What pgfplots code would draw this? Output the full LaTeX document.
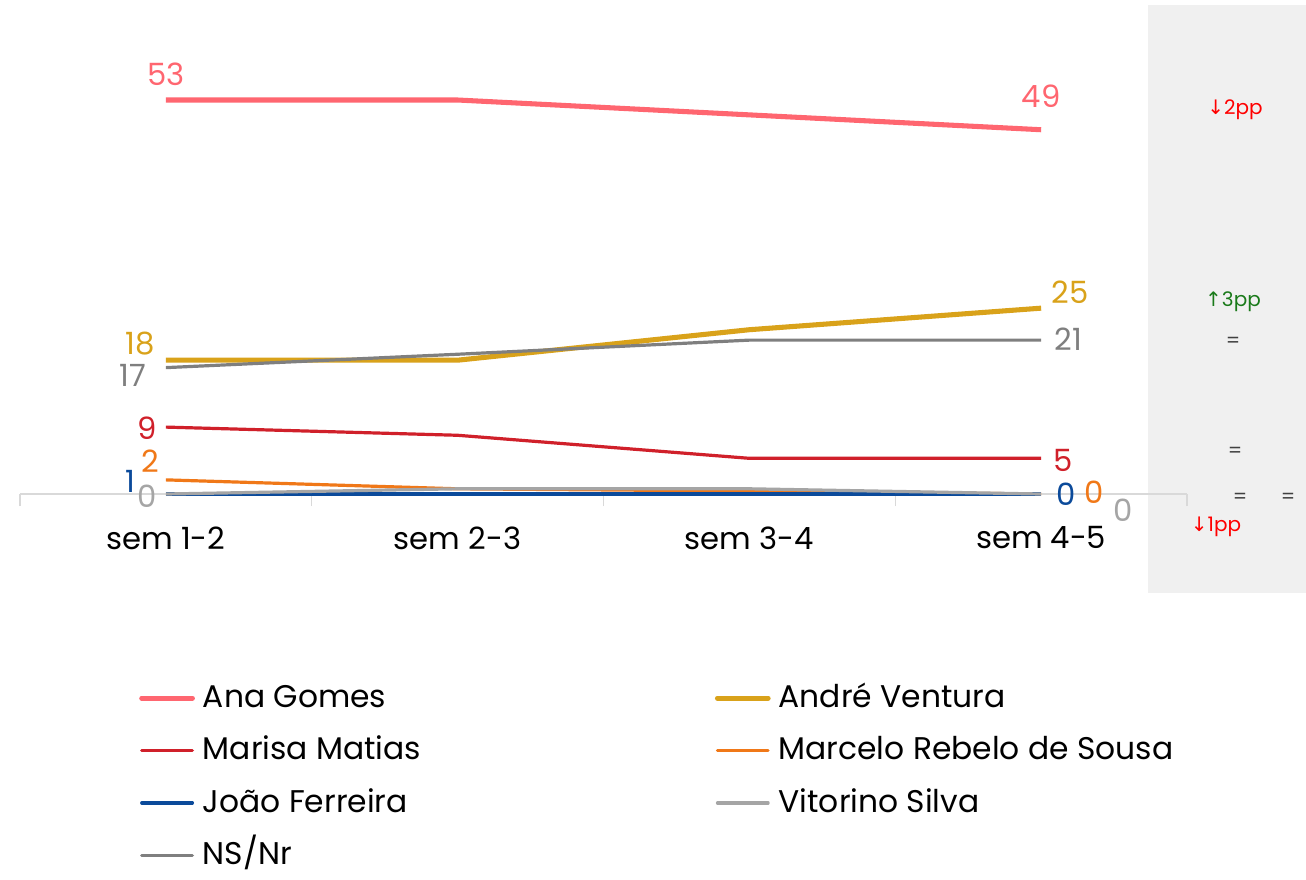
\documentclass[border=0pt]{standalone}
\usepackage{fontspec}
\setmainfont{Poppins}
\newfontfamily\symfont{DejaVu Sans}
\usepackage{pgfplots}
\pgfplotsset{compat=1.18}
\definecolor{cAna}{HTML}{FF6670}
\definecolor{cAndre}{HTML}{D9A21A}
\definecolor{cMarisa}{HTML}{D0202A}
\definecolor{cMarcelo}{HTML}{F07818}
\definecolor{cJoao}{HTML}{0B4A9A}
\definecolor{cVitorino}{HTML}{A5A5A5}
\definecolor{cNS}{HTML}{7F7F7F}
\definecolor{axisgray}{HTML}{D9D9D9}
\definecolor{panel}{HTML}{F0F0F0}
\definecolor{upgreen}{HTML}{1A7A1A}
\definecolor{eqgray}{HTML}{404040}
\begin{document}
\begin{tikzpicture}
\begin{scope}[x=0.75pt,y=-0.75pt,shift={(-15pt,370.5pt)}]
\path[use as bounding box] (0,0) rectangle (1306,872);
\fill[panel] (1148,5) rectangle (1306,593);
\end{scope}
\begin{axis}[
  at={(0,0)}, anchor=south west,
  width=875.25pt, height=295.5pt, scale only axis,
  xmin=-0.5, xmax=3.5, ymin=0, ymax=53,
  axis x line*=bottom, axis y line=none,
  axis line style={draw=axisgray, line width=1.2pt},
  xtick={0,1,2,3},
  xticklabels={sem 1-2,sem 2-3,sem 3-4,sem 4-5},
  major tick length=0pt,
  minor xtick={-0.5,0.5,1.5,2.5,3.5},
  minor tick length=9pt,
  tick align=outside,
  minor tick style={draw=axisgray, line width=1pt},
  xticklabel style={font=\fontsize{23}{27}\selectfont, text=black, yshift=-21pt},
  clip=false,
  legend columns=2,
  legend cell align=left,
  legend style={draw=none, fill=none, at={(0.0985,-0.47)}, anchor=north west,
    font=\fontsize{23.5}{27}\selectfont, row sep=11.3pt,
    nodes={text height=17pt, text depth=7pt},
    /tikz/every odd column/.append style={column sep=4pt}},
  legend image code/.code={\draw[#1, line cap=round] plot coordinates {(0pt,2pt) (19pt,2pt) (38pt,2pt)};},
]
\addplot[cAna, line width=3.8pt] coordinates {(0,53) (1,53) (2,51) (3,49)};
\addlegendentry{\makebox[382pt][l]{Ana Gomes}}
\addplot[cAndre, line width=3.8pt] coordinates {(0,18) (1,18) (2,22.1) (3,25)};
\addlegendentry{André Ventura}
\addplot[cMarisa, line width=2.4pt] coordinates {(0,9) (1,7.9) (2,4.8) (3,4.8)};
\addlegendentry{\makebox[382pt][l]{Marisa Matias}}
\addplot[cMarcelo, line width=2.4pt] coordinates {(0,1.9) (1,0.7) (2,0.4) (3,0)};
\addlegendentry{Marcelo Rebelo de Sousa}
\addplot[cJoao, line width=2.4pt] coordinates {(0,0) (1,0) (2,0) (3,0)};
\addlegendentry{\makebox[382pt][l]{João Ferreira}}
\addplot[cVitorino, line width=2.4pt] coordinates {(0,0) (1,0.7) (2,0.7) (3,0)};
\addlegendentry{Vitorino Silva}
\addplot[cNS, line width=2.4pt] coordinates {(0,17) (1,18.8) (2,20.7) (3,20.7)};
\addlegendentry{NS/Nr}
% data labels
\begin{scope}[font=\fontsize{23}{26}\selectfont]
\node[text=cAna] at (axis cs:0,56.4) {53};
\node[text=cAna] at (axis cs:3,53.5) {49};
\node[text=cAndre] at (axis cs:-0.089,20.3) {18};
\node[text=cAndre] at (axis cs:3.099,27.2) {25};
\node[text=cNS] at (axis cs:-0.113,15.9) {17};
\node[text=cNS] at (axis cs:3.093,20.85) {21};
\node[text=cMarisa] at (axis cs:-0.065,8.9) {9};
\node[text=cMarisa] at (axis cs:3.075,4.57) {5};
\node[text=cMarcelo] at (axis cs:-0.055,4.44) {2};
\node[text=cMarcelo] at (axis cs:3.182,0.27) {0};
\node[text=cJoao] at (axis cs:-0.12,1.75) {1};
\node[text=cJoao] at (axis cs:3.086,0) {0};
\node[text=cVitorino] at (axis cs:-0.065,-0.27) {0};
\node[text=cVitorino] at (axis cs:3.281,-2.15) {0};
\end{scope}
\end{axis}
\begin{scope}[x=0.75pt,y=-0.75pt,shift={(-15pt,370.5pt)}, font=\fontsize{15}{18}\selectfont]
\node[text=red] at (1235,110) {{\symfont ↓}2pp};
\node[text=upgreen] at (1233,302) {{\symfont ↑}3pp};
\node[text=eqgray] at (1233,342) {=};
\node[text=eqgray] at (1235,452) {=};
\node[text=eqgray] at (1240,498) {=};
\node[text=eqgray] at (1288,498) {=};
\node[text=red] at (1216,527) {{\symfont ↓}1pp};
\end{scope}
\end{tikzpicture}
\end{document}
